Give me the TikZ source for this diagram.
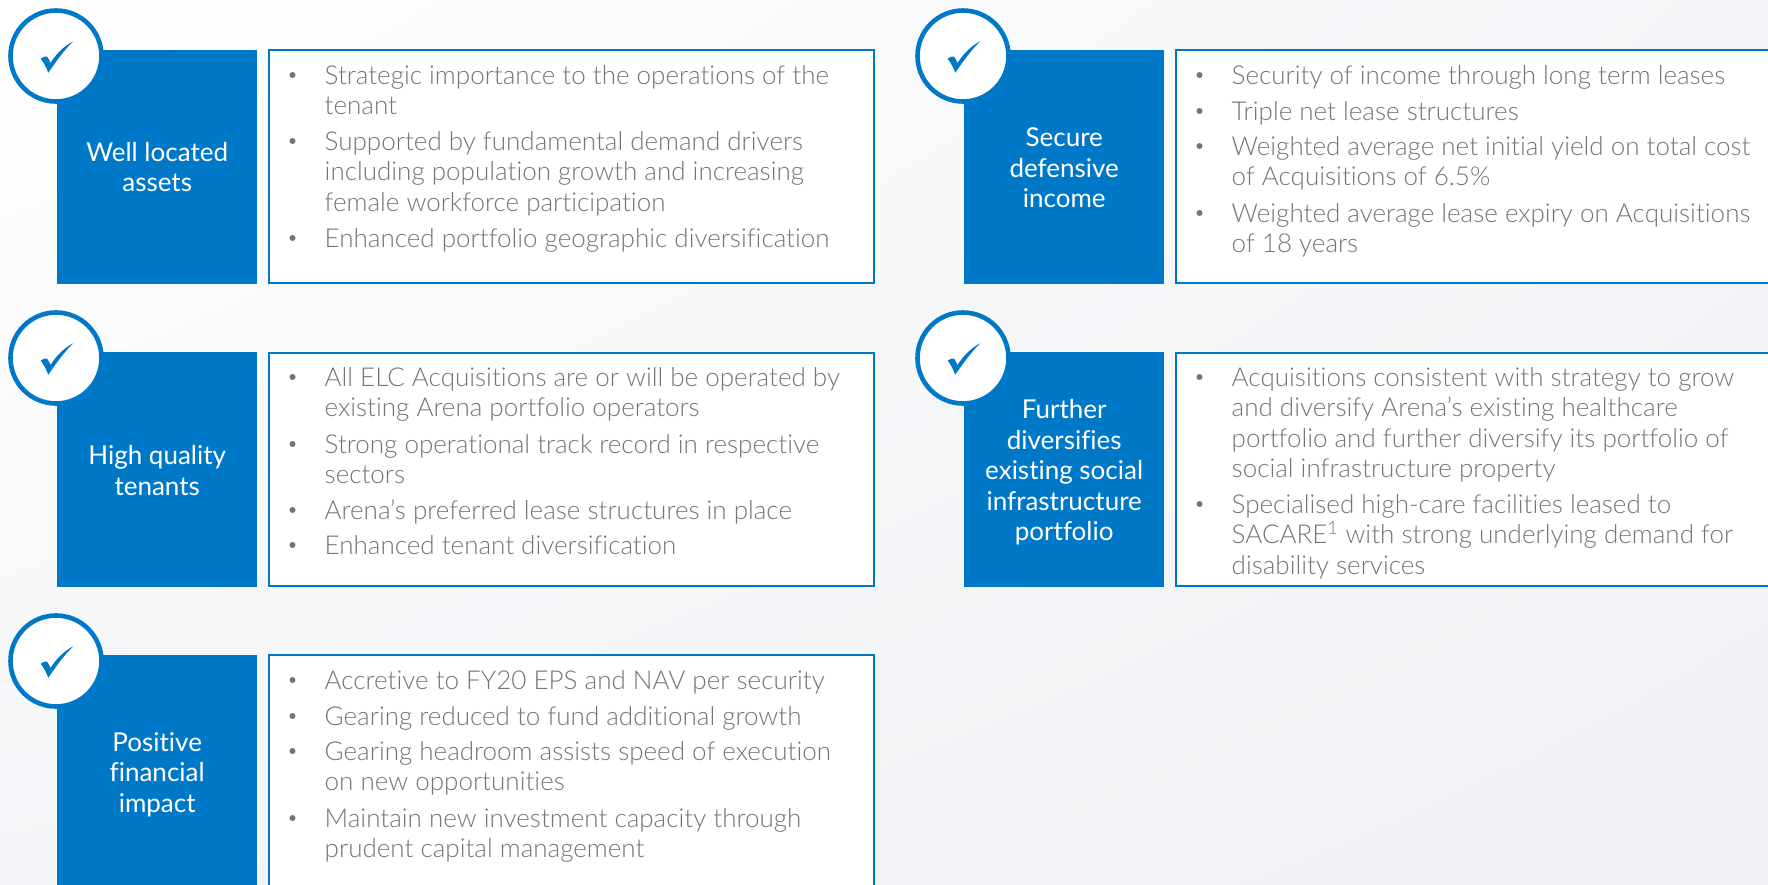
\documentclass[tikz,border=0pt]{standalone}
\usetikzlibrary{shadings}
\usepackage{fontspec}
\setmainfont[Ligatures=NoCommon]{Lato Light}
\newfontfamily\lablfont[Ligatures=NoCommon]{Lato}
\definecolor{arenablue}{HTML}{0078C8}
\definecolor{bodygrey}{HTML}{747474}
\definecolor{bgll}{HTML}{F4F5F8}
\definecolor{bgur}{HTML}{F4F5F8}
\definecolor{bglr}{HTML}{EEF0F3}
\tikzset{
  labelbox/.style={fill=arenablue,inner sep=0pt,minimum width=200pt,minimum height=234.5pt,anchor=north west,text=white,align=center,font=\lablfont\fontsize{26}{30.5}\selectfont},
  textbox/.style={fill=white,draw=arenablue,line width=2pt,inner sep=0pt,minimum width=605pt,minimum height=233pt,anchor=north west},
  tickcircle/.style={circle,fill=white,draw=arenablue,line width=4.6pt,inner sep=0pt,minimum size=91pt},
  bodyline/.style={anchor=north west,inner sep=0pt,align=left,text=bodygrey,font=\fontsize{26}{30.5}\selectfont},
  bulletdot/.style={circle,fill=bodygrey,inner sep=0pt,minimum size=6pt},
}
\newcommand{\tickin}[1]{%
  \fill[arenablue,shift={(#1.center)}] (-15.3,2.7) .. controls (-12,0.5) and (-10,0) .. (-9,0.5)
    .. controls (-7,3) and (-6.5,5) .. (-5.5,7) .. controls (0,-2) and (8,-10) .. (17.3,-14.7)
    .. controls (8,-6) and (-1,7) .. (-7.7,16.7) .. controls (-10,11) and (-12,7) .. cycle;}
\newcommand{\bitem}[4]{% name, text x, baseline y, lines
  \node[bulletdot] (#1b) at ({#2-32},{#3-9}) {};
  \node[bodyline] (#1) at (#2,{#3-26}) {\rule{0pt}{26pt}#4};}
\newcommand{\lift}[1]{\rule{0pt}{#1pt}}
\begin{document}
\begin{tikzpicture}[x=1pt,y=-1pt]
\useasboundingbox (0,0) rectangle (1768,884);
\clip (0,0) rectangle (1768,884);
\shade[upper left=white,lower left=bgll,upper right=bgur,lower right=bglr] (0,0) rectangle (1768,884);
% Row 1 left
\node[labelbox] (l1) at (57,49.5) {\lift{19}Well located\\assets};
\node[textbox] (w1) at (268,49) {};
\node[tickcircle] (c1) at (56,56) {}; \tickin{c1}
\bitem{a1}{324.5}{84}{Strategic importance to the operations of the\\tenant}
\bitem{a2}{324.5}{150}{Supported by fundamental demand drivers\\including population growth and increasing\\female workforce participation}
\bitem{a3}{324.5}{247}{Enhanced portfolio geographic diversification}
% Row 1 right
\node[labelbox] (l2) at (964,49.5) {\lift{21}Secure\\defensive\\income};
\node[textbox] (w2) at (1175,49) {};
\node[tickcircle] (c2) at (963,56) {}; \tickin{c2}
\bitem{b1}{1231.5}{84}{Security of income through long term leases}
\bitem{b2}{1231.5}{120}{Triple net lease structures}
\bitem{b3}{1231.5}{155}{Weighted average net initial yield on total cost\\of Acquisitions of 6.5\%}
\bitem{b4}{1231.5}{222}{Weighted average lease expiry on Acquisitions\\of 18 years}
% Row 2 left
\node[labelbox] (l3) at (57,352) {\lift{21}High quality\\tenants};
\node[textbox] (w3) at (268,351.5) {};
\node[tickcircle] (c3) at (56,358) {}; \tickin{c3}
\bitem{d1}{324.5}{386}{All ELC Acquisitions are or will be operated by\\existing Arena portfolio operators}
\bitem{d2}{324.5}{453}{Strong operational track record in respective\\sectors}
\bitem{d3}{324.5}{519}{Arena’s preferred lease structures in place}
\bitem{d4}{324.5}{554}{Enhanced tenant diversification}
% Row 2 right
\node[labelbox] (l4) at (964,352) {\lift{25}Further\\diversifies\\existing social\\infrastructure\\portfolio};
\node[textbox] (w4) at (1175,351.5) {};
\node[tickcircle] (c4) at (963,358) {}; \tickin{c4}
\bitem{e1}{1231.5}{386}{Acquisitions consistent with strategy to grow\\and diversify Arena’s existing healthcare\\portfolio and further diversify its portfolio of\\social infrastructure property}
\bitem{e2}{1231.5}{513}{Specialised high-care facilities leased to\\SACARE\textsuperscript{1} with strong underlying demand for\\disability services}
% Row 3
\node[labelbox] (l5) at (57,655) {\lift{23}Positive\\financial\\impact};
\node[textbox] (w5) at (268,654) {};
\node[tickcircle] (c5) at (56,661) {}; \tickin{c5}
\bitem{f1}{324.5}{689}{Accretive to FY20 EPS and NAV per security}
\bitem{f2}{324.5}{725}{Gearing reduced to fund additional growth}
\bitem{f3}{324.5}{760}{Gearing headroom assists speed of execution\\on new opportunities}
\bitem{f4}{324.5}{827}{Maintain new investment capacity through\\prudent capital management}
\end{tikzpicture}
\end{document}
